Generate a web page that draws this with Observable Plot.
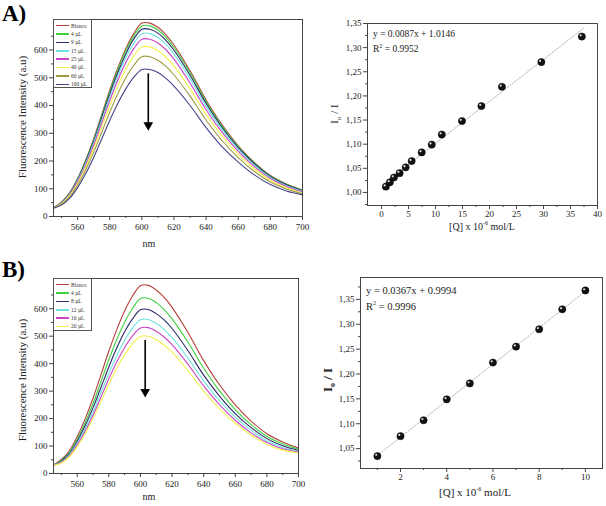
<!DOCTYPE html>
<html><head><meta charset="utf-8">
<script src="https://cdn.jsdelivr.net/npm/d3@7"></script>
<script src="https://cdn.jsdelivr.net/npm/@observablehq/plot@0.6"></script>
<style>
body{margin:0;background:#fff;}
#wrap{position:relative;width:606px;height:506px;background:#fff;font-family:"Liberation Serif",serif;color:#222;overflow:hidden}
.p{position:absolute}
.t{position:absolute;white-space:nowrap;font-family:"Liberation Serif",serif;color:#222;line-height:1}
.rot{transform:translate(-50%,-50%) rotate(-90deg)}
.cx{transform:translate(-50%,-50%)}
.leg{position:absolute;border:1px solid #555;background:#fff;font-family:"Liberation Serif",serif;font-size:5.5px;color:#333;box-sizing:border-box}
.leg div{height:8.4px;line-height:8.4px;display:flex;align-items:center}
.leg span.l{display:inline-block;width:13px;height:1.6px;margin:0 2px 0 2px}
</style></head>
<body><div id="wrap"></div>
<script>
// ---------- data ----------
const wl = [545,550,555,560,565,570,575,580,585,590,595,600,605,610,615,620,630,640,650,660,670,680,690,700];

const seriesA = ["Blanco","4 µL","9 µL","15 µL","25 µL","40 µL","60 µL","100 µL"];
const colorsA = ["#b5403a","#3fcf3f","#2a2a6a","#6fe3e3","#cc44c4","#f2f24a","#9c9a42","#44448c"];
const A_Blanco = [32,52,85,137,203,280,367,455,535,605,660,697,697,682,655,618,525,420,330,255,195,148,117,95];
const A_4  = [32,51,84,135,200,276,362,449,528,597,651,687,687,672,646,609,518,414,325,252,193,146,116,94];
const A_9  = [32,50,82,133,197,271,356,441,518,586,640,675,675,661,635,599,509,407,320,248,190,144,114,93];
const A_15 = [31,49,80,130,192,265,347,430,506,572,624,659,659,645,620,585,497,397,312,242,185,141,111,91];
const A_25 = [31,48,78,126,186,257,337,417,491,555,605,639,639,625,601,567,481,385,303,235,180,137,108,88];
const A_40 = [31,46,75,120,178,246,322,399,469,531,579,611,611,598,574,542,460,368,290,225,172,131,104,85];
const A_60 = [30,44,70,113,168,231,303,376,442,500,545,576,576,563,541,510,434,347,273,212,162,124,99,82];
const A_100= [30,41,65,104,154,213,279,346,407,460,502,530,530,519,498,470,400,320,251,196,150,115,92,78];

const seriesB = ["Blanco","4 µL","8 µL","12 µL","16 µL","20 µL"];
const colorsB = ["#b5403a","#3fcf3f","#2a2a6a","#6fe3e3","#cc44c4","#f2f24a"];
const B_Blanco = [31,51,83,134,199,274,359,445,524,592,646,684,685,668,641,605,514,411,323,250,191,145,115,93];
const B_4  = [31,48,77,125,185,255,334,414,488,551,601,637,638,622,597,563,479,383,301,233,178,135,108,88];
const B_8  = [30,45,72,117,174,239,313,388,457,516,563,596,597,582,559,528,448,358,282,218,167,127,101,84];
const B_12 = [30,42,68,110,163,224,294,364,429,485,529,560,561,547,525,495,421,337,265,205,157,119,95,80];
const B_16 = [30,40,64,104,154,212,278,345,406,459,501,530,531,518,497,469,398,319,251,194,148,113,90,78];
const B_20 = [30,38,61,98,145,200,262,325,383,432,472,499,500,488,468,442,375,300,236,183,140,106,85,75];

const qA = [0.8,1.55,2.3,3.35,4.47,5.58,7.44,9.3,11.16,14.9,18.5,22.3,29.6,37.1];
const ratioA = [1.012,1.021,1.031,1.040,1.052,1.065,1.083,1.099,1.120,1.148,1.179,1.219,1.270,1.323];
const fitA = {slope:0.0087, intercept:1.0146, x0:0.5, x1:37.5};
const qB = [1,2,3,4,5,6,7,8,9,10];
const ratioB = [1.035,1.075,1.107,1.149,1.181,1.223,1.255,1.290,1.330,1.368];
const fitB = {slope:0.0367, intercept:0.9994, x0:1, x1:10};

const arrowA = {x:604, y1:514, y2:322};
const arrowB = {x:603, y1:484, y2:290};

// ---------- helpers ----------
function rows(names, arrs){
  const out=[];
  names.forEach((n,i)=>arrs[i].forEach((v,j)=>out.push({s:n,nm:wl[j],v})));
  return out;
}
const comma = d => d.toFixed(2).replace(".", ",");
const style = {fontFamily:"Liberation Serif, serif", fontSize:"9px", color:"#222", background:"transparent", overflow:"visible"};

function spectrum(data, names, colors, arrow, opts){
  return Plot.plot({
    width: 306, height: opts.height,
    marginLeft: opts.ml, marginRight: opts.mr, marginTop: opts.mt, marginBottom: opts.mb,
    style,
    x:{domain:[545,700], axis:null},
    y:{domain:[0,710], axis:null},
    color:{domain:names, range:colors},
    marks:[
      Plot.line(data,{x:"nm",y:"v",z:"s",stroke:"s",strokeWidth:1.1,curve:"catmull-rom"}),
      Plot.ruleX([arrow],{x:"x",y1:"y1",y2:"y2",stroke:"#000",strokeWidth:1.6}),
      Plot.dot([arrow],{x:"x",y:"y2",symbol:"triangle",rotate:180,r:3.6,fill:"#000",stroke:"none",dy:-2}),
      Plot.frame({stroke:"#444",strokeWidth:1}),
      Plot.axisX({ticks:[560,580,600,620,640,660,680,700],tickSize:4,tickPadding:3,label:null,stroke:"#444"}),
      Plot.axisX({ticks:[550,570,590,610,630,650,670,690],tickSize:2,tickFormat:()=>"",label:null,stroke:"#444"}),
      Plot.axisY({ticks:[0,100,200,300,400,500,600],tickSize:4,tickPadding:2,label:null,stroke:"#444"}),
      Plot.axisY({ticks:[50,150,250,350,450,550,650],tickSize:2,tickFormat:()=>"",label:null,stroke:"#444"})
    ]
  });
}

function sv(q, r, fit, o){
  const pts = q.map((x,i)=>({x, y:r[i]}));
  const fl = [{x:fit.x0,y:fit.slope*fit.x0+fit.intercept},{x:fit.x1,y:fit.slope*fit.x1+fit.intercept}];
  return Plot.plot({
    width:306, height:o.height,
    marginLeft:o.ml, marginRight:o.mr, marginTop:o.mt, marginBottom:o.mb,
    style,
    x:{domain:o.xd, axis:null},
    y:{domain:o.yd, axis:null},
    marks:[
      Plot.line(fl,{x:"x",y:"y",stroke:"#aaa",strokeWidth:0.9,strokeDasharray:"1.5,1.5"}),
      Plot.dot(pts,{x:"x",y:"y",r:3.6,fill:"#111",stroke:"#000",strokeWidth:0.5}),
      Plot.dot(pts,{x:"x",y:"y",r:1.1,fill:"#ddd",dx:-1.2,dy:-1.2}),
      Plot.frame({stroke:"#444",strokeWidth:1}),
      Plot.axisX({ticks:o.xt,tickSize:4,tickPadding:1,label:null,stroke:"#444"}),
      Plot.axisX({ticks:o.xm,tickSize:2,tickFormat:()=>"",label:null,stroke:"#444"}),
      Plot.axisY({ticks:o.yt,tickSize:4,tickPadding:2,label:null,stroke:"#444",tickFormat:comma}),
      Plot.axisY({ticks:o.ym,tickSize:2,tickFormat:()=>"",label:null,stroke:"#444"})
    ]
  });
}

const wrap = document.getElementById("wrap");
function place(el, left, top){ const d=document.createElement("div"); d.className="p"; d.style.left=left+"px"; d.style.top=top+"px"; d.appendChild(el); wrap.appendChild(d); }
function text(str, left, top, size, cls, extra){ const d=document.createElement("div"); d.className="t "+(cls||""); d.style.left=left+"px"; d.style.top=top+"px"; d.style.fontSize=size+"px"; d.innerHTML=str; if(extra) Object.assign(d.style, extra); wrap.appendChild(d); }
function legend(names, colors, left, top, w, h){
  const d=document.createElement("div"); d.className="leg";
  Object.assign(d.style,{left:left+"px",top:top+"px",width:w+"px",height:h+"px",paddingTop:"1.5px"});
  names.forEach((n,i)=>{ const r=document.createElement("div"); r.innerHTML=`<span class="l" style="background:${colors[i]}"></span>${n}`; d.appendChild(r); });
  wrap.appendChild(d);
}

// Panel A left
place(spectrum(rows(seriesA,[A_Blanco,A_4,A_9,A_15,A_25,A_40,A_60,A_100]), seriesA, colorsA, arrowA,
  {height:250, ml:53, mr:4, mt:19, mb:34}), 0, 0);
// Panel B left
place(spectrum(rows(seriesB,[B_Blanco,B_4,B_8,B_12,B_16,B_20]), seriesB, colorsB, arrowB,
  {height:266, ml:53, mr:8, mt:38, mb:33}), 0, 240);
// Panel A right
place(sv(qA, ratioA, fitA, {height:250, ml:67, mr:9, mt:23, mb:45, xd:[-2.6,40], yd:[0.973,1.35],
  xt:[0,5,10,15,20,25,30,35,40], xm:[2.5,7.5,12.5,17.5,22.5,27.5,32.5,37.5],
  yt:[1.00,1.05,1.10,1.15,1.20,1.25,1.30,1.35], ym:[0.975,1.025,1.075,1.125,1.175,1.225,1.275,1.325]}), 300, 0);
// Panel B right
place(sv(qB, ratioB, fitB, {height:266, ml:60, mr:4, mt:37, mb:38, xd:[0.27,10.74], yd:[1.01,1.394],
  xt:[2,4,6,8,10], xm:[1,3,5,7,9],
  yt:[1.05,1.10,1.15,1.20,1.25,1.30,1.35], ym:[1.025,1.075,1.125,1.175,1.225,1.275,1.325,1.375]}), 300, 240);

// legends
legend(seriesA, colorsA, 53, 19, 39, 69);
legend(seriesB, colorsB, 53, 278, 39, 53);

// labels
text("A)", 2, 2, 23, "", {fontWeight:"bold", color:"#000"});
text("B)", 2, 258, 23, "", {fontWeight:"bold", color:"#000"});
text("Fluorescence Intensity (a.u)", 22, 117, 11, "rot");
text("Fluorescence Intensity (a.u)", 22, 380, 11, "rot");
text("nm", 149, 244, 10, "cx");
text("nm", 149, 497, 10, "cx");
text("I<sub style='font-size:7px'>o</sub> / I", 336, 114, 11, "rot");
text("I<sub style='font-size:8px'>o</sub> / I", 329, 380, 13, "rot", {fontWeight:"bold"});
text("[Q] x 10<sup style='font-size:6px'>-6</sup> mol/L", 482, 226, 10, "cx");
text("[Q] x 10<sup style='font-size:6px'>-6</sup> mol/L", 475, 492, 11, "cx");
text("y = 0.0087x + 1.0146", 373, 30, 9.5, "");
text("R<sup style='font-size:6px'>2</sup> = 0.9952", 373, 43, 9.5, "");
text("y = 0.0367x + 0.9994", 366, 286, 10.5, "");
text("R<sup style='font-size:6px'>2</sup> = 0.9996", 366, 300, 10.5, "");
</script></body></html>
